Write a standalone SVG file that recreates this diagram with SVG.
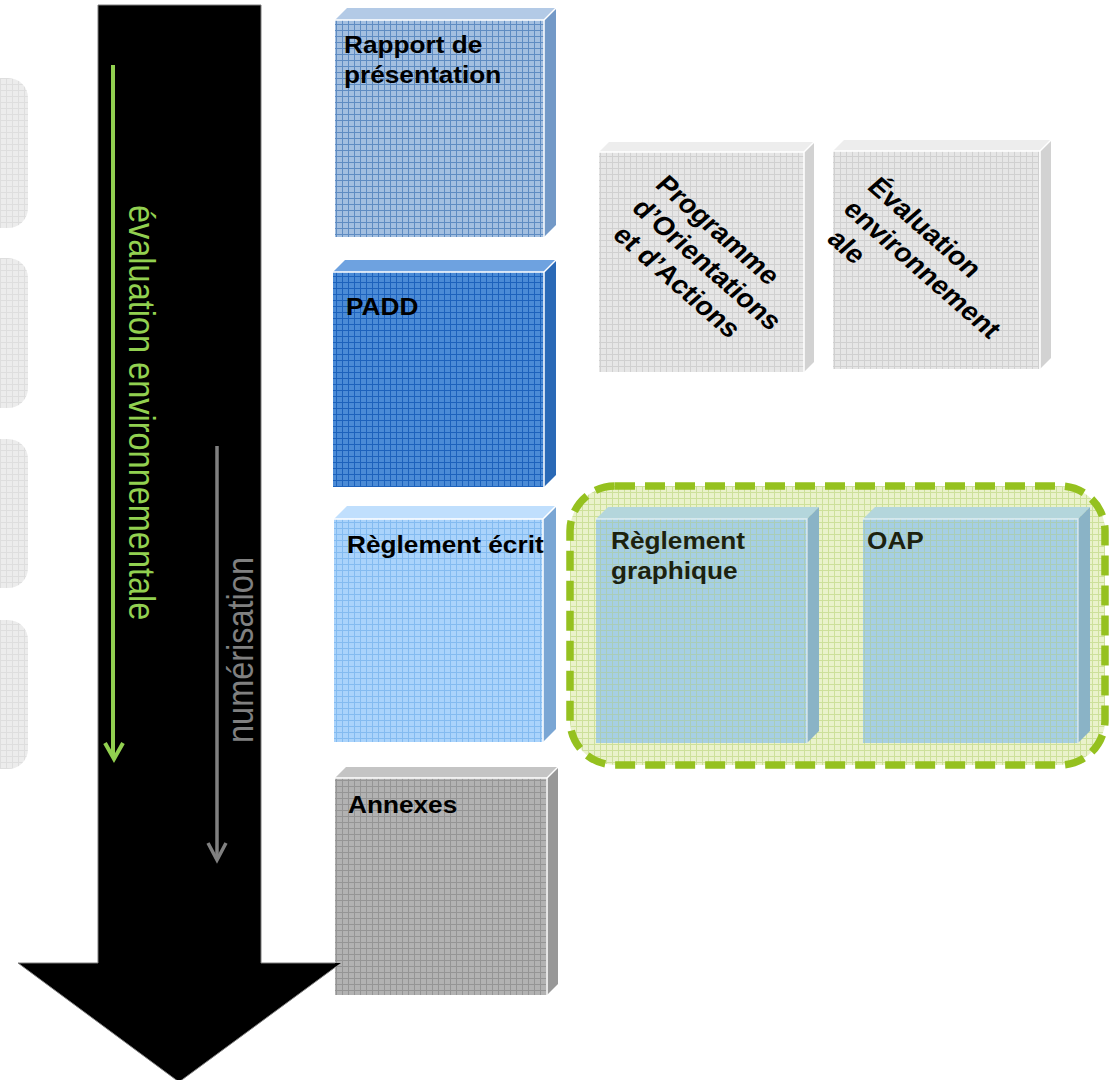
<svg xmlns="http://www.w3.org/2000/svg" width="1113" height="1080" viewBox="0 0 1113 1080">
<style>
.lbl{font-family:"Liberation Sans",Arial,sans-serif;font-weight:bold;font-size:23px;fill:#000}
.rot{font-size:25.5px}
.dark{fill:#1c220f}
.vt{font-family:"Liberation Sans",Arial,sans-serif;font-size:32.5px}
.edge{fill:none;stroke:#fff;stroke-width:1.5}
</style>
<defs>
<pattern id="pLeft" width="6" height="6" patternUnits="userSpaceOnUse"><rect width="6" height="6" fill="#ececec"/><path d="M0 .5H6M.5 0V6" stroke="#dedede"/></pattern>
<pattern id="pRap" width="6" height="6" patternUnits="userSpaceOnUse"><rect width="6" height="6" fill="#a3bfe0"/><path d="M0 .5H6M.5 0V6" stroke="#5f8cc2"/></pattern>
<pattern id="pPadd" width="6" height="6" patternUnits="userSpaceOnUse"><rect width="6" height="6" fill="#4b8bd6"/><path d="M0 .5H6M.5 0V6" stroke="#1d62bc"/></pattern>
<pattern id="pReg" width="6" height="6" patternUnits="userSpaceOnUse"><rect width="6" height="6" fill="#aad3fb"/><path d="M0 .5H6M.5 0V6" stroke="#84bbf0"/></pattern>
<pattern id="pAnn" width="6" height="6" patternUnits="userSpaceOnUse"><rect width="6" height="6" fill="#b2b2b2"/><path d="M0 .5H6M.5 0V6" stroke="#959595"/></pattern>
<pattern id="pLight" width="6" height="6" patternUnits="userSpaceOnUse"><rect width="6" height="6" fill="#e6e6e6"/><path d="M0 .5H6M.5 0V6" stroke="#d0d0d0"/></pattern>
<pattern id="pGreen" width="6" height="6" patternUnits="userSpaceOnUse"><rect width="6" height="6" fill="#eaf2cb"/><path d="M0 .5H6M.5 0V6" stroke="#cde09a"/></pattern>
<pattern id="pTeal" width="6" height="6" patternUnits="userSpaceOnUse"><rect width="6" height="6" fill="#a6cfe4"/><path d="M0 .5H6M.5 0V6" stroke="#a9cdb8"/></pattern>
</defs>
<rect width="1113" height="1080" fill="#fff"/>

<g id="side-tabs">
<rect x="-30" y="78" width="58" height="150" rx="20" fill="url(#pLeft)"/>
<rect x="-30" y="258" width="58" height="150" rx="20" fill="url(#pLeft)"/>
<rect x="-30" y="439" width="58" height="149" rx="20" fill="url(#pLeft)"/>
<rect x="-30" y="620" width="58" height="149" rx="20" fill="url(#pLeft)"/>
</g>

<g id="timeline-arrow">
<polygon points="98,5 261,5 261,963 341,963 179,1082 18,963 98,963" fill="#000" stroke="#7f7f7f" stroke-width="1"/>
</g>

<g id="connectors">
<line x1="113" y1="65" x2="113" y2="757" stroke="#92d050" stroke-width="4"/>
<polyline points="105,743 114,759 123,743" fill="none" stroke="#92d050" stroke-width="4"/>
<line x1="217" y1="446" x2="217" y2="859" stroke="#808080" stroke-width="3.5"/>
<polyline points="208,843 217,860 226,843" fill="none" stroke="#808080" stroke-width="3.5"/>
<text class="vt" fill="#92d050" transform="translate(129,205) scale(1.14,1) rotate(90)">évaluation environnementale</text>
<text class="vt" fill="#808080" transform="translate(253,743) scale(1.14,1) rotate(-90)">numérisation</text>
</g>

<g id="rapport">
<polygon points="335,20 347,8 556,8 544,20" fill="#b3cae6"/>
<polygon points="544,20 556,8 556,225 544,237" fill="#7399c7"/>
<rect x="335" y="20" width="209" height="217" fill="url(#pRap)"/>
<polyline class="edge" points="335,20 544,20 544,237"/>
<line class="edge" x1="544" y1="20" x2="556" y2="8"/>
<text class="lbl" transform="translate(344,53) scale(1.14,1)"><tspan x="0">Rapport de</tspan><tspan x="0" dy="30">présentation</tspan></text>
</g>

<g id="padd">
<polygon points="333,272 345,260 556,260 544,272" fill="#6ea2e0"/>
<polygon points="544,272 556,260 556,475 544,487" fill="#2a69b6"/>
<rect x="333" y="272" width="211" height="215" fill="url(#pPadd)"/>
<polyline class="edge" points="333,272 544,272 544,487"/>
<line class="edge" x1="544" y1="272" x2="556" y2="260"/>
<text class="lbl" transform="translate(346,315) scale(1.14,1)">PADD</text>
</g>

<g id="reglement-ecrit">
<polygon points="334,519 347,506 556,506 543,519" fill="#c0dffd"/>
<polygon points="543,519 556,506 556,729 543,742" fill="#7aa6d4"/>
<rect x="334" y="519" width="209" height="223" fill="url(#pReg)"/>
<polyline class="edge" points="334,519 543,519 543,742"/>
<line class="edge" x1="543" y1="519" x2="556" y2="506"/>
<text class="lbl" transform="translate(347,553) scale(1.14,1)">Règlement écrit</text>
</g>

<g id="annexes">
<polygon points="335,778 346,767 558,767 547,778" fill="#c4c4c4"/>
<polygon points="547,778 558,767 558,984 547,995" fill="#989898"/>
<rect x="335" y="778" width="212" height="217" fill="url(#pAnn)"/>
<polyline class="edge" points="335,778 547,778 547,995"/>
<line class="edge" x1="547" y1="778" x2="558" y2="767"/>
<text class="lbl" transform="translate(348,813) scale(1.14,1)">Annexes</text>
</g>

<g id="arrow-tip-overlap">
<polygon points="335,963 341,963 335,967" fill="#000"/>
</g>

<g id="programme">
<polygon points="599,152 609,142 814,142 804,152" fill="#ededed"/>
<polygon points="804,152 814,142 814,362 804,372" fill="#d2d2d2"/>
<rect x="599" y="152" width="205" height="220" fill="url(#pLight)"/>
<polyline class="edge" points="599,152 804,152 804,372"/>
<line class="edge" x1="804" y1="152" x2="814" y2="142"/>
<text class="lbl rot" transform="translate(654,186) scale(1.14,1) rotate(45)"><tspan x="0">Programme</tspan><tspan x="2" dy="31">d’Orientations</tspan><tspan x="9" dy="31">et d’Actions</tspan></text>
</g>

<g id="evaluation">
<polygon points="833,151 844,140 1051,140 1040,151" fill="#ededed"/>
<polygon points="1040,151 1051,140 1051,358 1040,369" fill="#d2d2d2"/>
<rect x="833" y="151" width="207" height="218" fill="url(#pLight)"/>
<polyline class="edge" points="833,151 1040,151 1040,369"/>
<line class="edge" x1="1040" y1="151" x2="1051" y2="140"/>
<text class="lbl rot" transform="translate(866,188) scale(1.14,1) rotate(45)"><tspan x="0">Évaluation</tspan><tspan x="1" dy="31">environnement</tspan><tspan x="12" dy="31">ale</tspan></text>
</g>

<g id="numerique-group">
<rect x="570" y="486" width="535" height="279" rx="45" fill="url(#pGreen)" stroke="#95c11f" stroke-width="7.5" stroke-dasharray="20 10"/>
</g>

<g id="reglement-graphique">
<polygon points="596,519 608,507 819,507 807,519" fill="#b4d6dc"/>
<polygon points="807,519 819,507 819,731 807,743" fill="#8ab3c6"/>
<rect x="596" y="519" width="211" height="224" fill="url(#pTeal)"/>
<polyline class="edge" points="596,519 807,519 807,743" stroke-opacity=".6"/>
<text class="lbl dark" transform="translate(611,549) scale(1.14,1)"><tspan x="0">Règlement</tspan><tspan x="0" dy="30">graphique</tspan></text>
</g>

<g id="oap">
<polygon points="863,519 875,507 1090,507 1078,519" fill="#b4d6dc"/>
<polygon points="1078,519 1090,507 1090,731 1078,743" fill="#8ab3c6"/>
<rect x="863" y="519" width="215" height="224" fill="url(#pTeal)"/>
<polyline class="edge" points="863,519 1078,519 1078,743" stroke-opacity=".6"/>
<text class="lbl dark" transform="translate(867,549) scale(1.14,1)">OAP</text>
</g>
</svg>
